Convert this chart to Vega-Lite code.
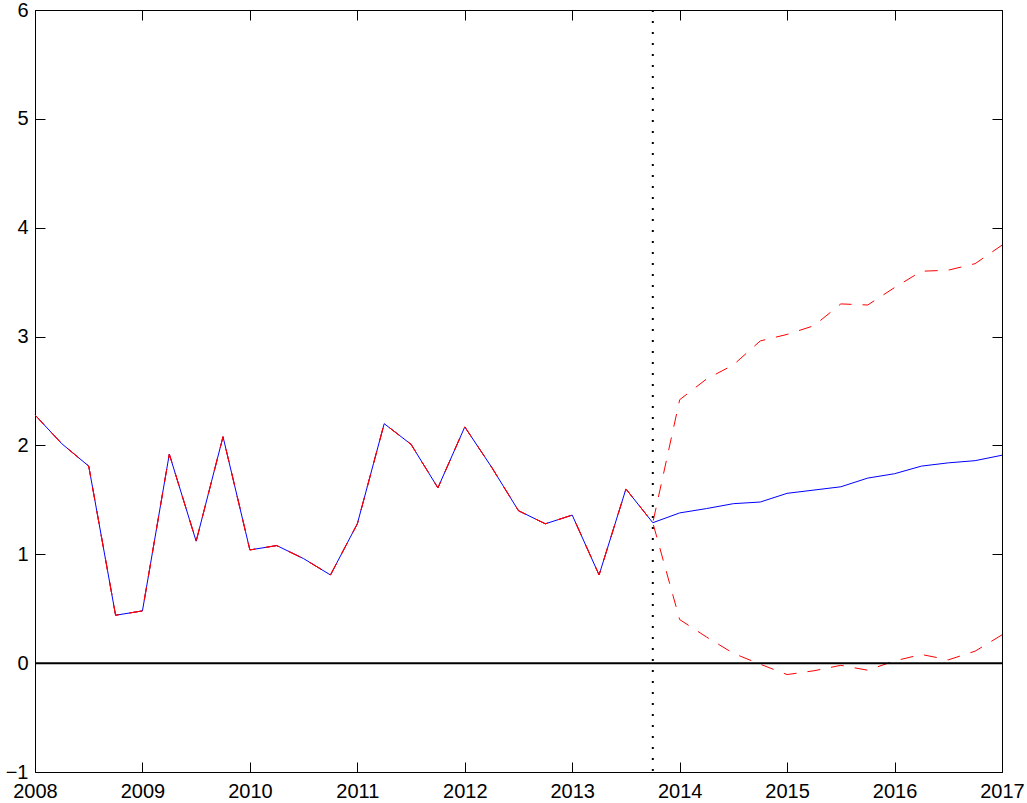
{
  "$schema": "https://vega.github.io/schema/vega-lite/v6.json",
  "width": 967,
  "height": 762,
  "autosize": {"type": "none"},
  "padding": {"left": 35, "top": 10, "right": 25, "bottom": 31},
  "background": "white",
  "config": {
    "view": {"stroke": "black", "strokeWidth": 1},
    "axis": {
      "grid": false,
      "domain": false,
      "tickSize": -10,
      "tickColor": "black",
      "tickWidth": 1,
      "labelFont": "Liberation Sans",
      "labelFontSize": 20,
      "labelColor": "black",
      "labelFlush": false,
      "labelOverlap": false
    }
  },
  "resolve": {"axis": {"x": "independent", "y": "independent"}},
  "data": {
    "values": [
      {"t": 2008.00, "central": 2.28, "upper": 2.28, "lower": 2.28},
      {"t": 2008.25, "central": 2.015, "upper": 2.015, "lower": 2.015},
      {"t": 2008.50, "central": 1.81, "upper": 1.81, "lower": 1.81},
      {"t": 2008.75, "central": 0.44, "upper": 0.44, "lower": 0.44},
      {"t": 2009.00, "central": 0.48, "upper": 0.48, "lower": 0.48},
      {"t": 2009.25, "central": 1.92, "upper": 1.92, "lower": 1.92},
      {"t": 2009.50, "central": 1.12, "upper": 1.12, "lower": 1.12},
      {"t": 2009.75, "central": 2.08, "upper": 2.08, "lower": 2.08},
      {"t": 2010.00, "central": 1.04, "upper": 1.04, "lower": 1.04},
      {"t": 2010.25, "central": 1.08, "upper": 1.08, "lower": 1.08},
      {"t": 2010.50, "central": 0.96, "upper": 0.96, "lower": 0.96},
      {"t": 2010.75, "central": 0.81, "upper": 0.81, "lower": 0.81},
      {"t": 2011.00, "central": 1.28, "upper": 1.28, "lower": 1.28},
      {"t": 2011.25, "central": 2.20, "upper": 2.20, "lower": 2.20},
      {"t": 2011.50, "central": 2.01, "upper": 2.01, "lower": 2.01},
      {"t": 2011.75, "central": 1.61, "upper": 1.61, "lower": 1.61},
      {"t": 2012.00, "central": 2.17, "upper": 2.17, "lower": 2.17},
      {"t": 2012.25, "central": 1.80, "upper": 1.80, "lower": 1.80},
      {"t": 2012.50, "central": 1.40, "upper": 1.40, "lower": 1.40},
      {"t": 2012.75, "central": 1.28, "upper": 1.28, "lower": 1.28},
      {"t": 2013.00, "central": 1.36, "upper": 1.36, "lower": 1.36},
      {"t": 2013.25, "central": 0.81, "upper": 0.81, "lower": 0.81},
      {"t": 2013.50, "central": 1.60, "upper": 1.60, "lower": 1.60},
      {"t": 2013.75, "central": 1.29, "upper": 1.29, "lower": 1.29},
      {"t": 2014.00, "central": 1.38, "upper": 2.42, "lower": 0.40},
      {"t": 2014.25, "central": 1.42, "upper": 2.61, "lower": 0.24},
      {"t": 2014.50, "central": 1.465, "upper": 2.74, "lower": 0.09},
      {"t": 2014.75, "central": 1.48, "upper": 2.96, "lower": -0.01},
      {"t": 2015.00, "central": 1.56, "upper": 3.02, "lower": -0.105},
      {"t": 2015.25, "central": 1.59, "upper": 3.10, "lower": -0.07},
      {"t": 2015.50, "central": 1.62, "upper": 3.30, "lower": -0.02},
      {"t": 2015.75, "central": 1.70, "upper": 3.29, "lower": -0.065},
      {"t": 2016.00, "central": 1.74, "upper": 3.45, "lower": 0.02},
      {"t": 2016.25, "central": 1.81, "upper": 3.60, "lower": 0.08},
      {"t": 2016.50, "central": 1.84, "upper": 3.61, "lower": 0.03},
      {"t": 2016.75, "central": 1.86, "upper": 3.67, "lower": 0.11},
      {"t": 2017.00, "central": 1.91, "upper": 3.84, "lower": 0.26}
    ]
  },
  "layer": [
    {
      "mark": {"type": "line", "color": "#0000ff", "strokeWidth": 1},
      "encoding": {
        "x": {
          "field": "t",
          "type": "quantitative",
          "scale": {"domain": [2008, 2017], "nice": false, "zero": false},
          "axis": {
            "orient": "bottom",
            "title": null,
            "values": [2008, 2009, 2010, 2011, 2012, 2013, 2014, 2015, 2016, 2017],
            "format": "d",
            "labelPadding": 19.5
          }
        },
        "y": {
          "field": "central",
          "type": "quantitative",
          "scale": {"domain": [-1, 6], "nice": false, "zero": false},
          "axis": {
            "orient": "left",
            "title": null,
            "values": [-1, 0, 1, 2, 3, 4, 5, 6],
            "labelPadding": 17
          }
        }
      }
    },
    {
      "mark": {"type": "line", "color": "#ff0000", "strokeWidth": 1, "strokeDash": [13, 11]},
      "encoding": {
        "x": {"field": "t", "type": "quantitative", "axis": null},
        "y": {"field": "upper", "type": "quantitative", "axis": null}
      }
    },
    {
      "mark": {"type": "line", "color": "#ff0000", "strokeWidth": 1, "strokeDash": [13, 11]},
      "encoding": {
        "x": {"field": "t", "type": "quantitative", "axis": null},
        "y": {"field": "lower", "type": "quantitative", "axis": null}
      }
    },
    {
      "data": {"values": [{"level": 0}]},
      "mark": {"type": "rule", "color": "black", "strokeWidth": 2},
      "encoding": {
        "y": {
          "field": "level",
          "type": "quantitative",
          "axis": {
            "orient": "right",
            "title": null,
            "labels": false,
            "values": [-1, 0, 1, 2, 3, 4, 5, 6]
          }
        }
      }
    },
    {
      "data": {"values": [{"when": 2013.75}]},
      "mark": {"type": "rule", "color": "black", "strokeWidth": 2, "strokeDash": [2, 9]},
      "encoding": {
        "x": {
          "field": "when",
          "type": "quantitative",
          "axis": {
            "orient": "top",
            "title": null,
            "labels": false,
            "values": [2008, 2009, 2010, 2011, 2012, 2013, 2014, 2015, 2016, 2017]
          }
        }
      }
    }
  ]
}
